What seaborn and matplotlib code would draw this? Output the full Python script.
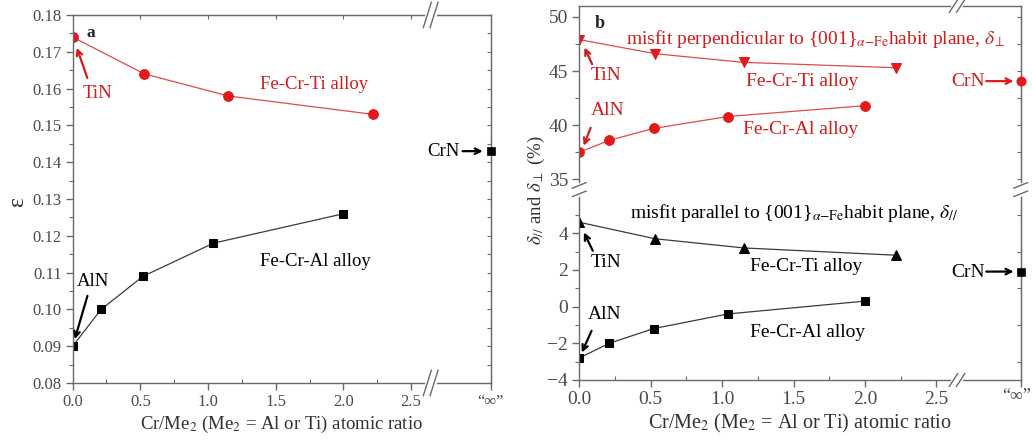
import numpy as np
import pandas as pd
import seaborn as sns
import matplotlib.pyplot as plt
from matplotlib.ticker import MultipleLocator, FixedLocator, FormatStrFormatter

sns.set_style('ticks')
plt.rcParams['font.family'] = ['Liberation Serif', 'DejaVu Serif']
plt.rcParams['mathtext.fontset'] = 'stix'

# ---- data (x = Cr/Me2 atomic ratio) ----
ti_x = [0.0, 0.53, 1.15, 2.22]
al_x = [0.0, 0.21, 0.52, 1.04, 2.0]

# (a) strain epsilon
eps_ti = [0.174, 0.164, 0.158, 0.153]
eps_al = [0.090, 0.100, 0.109, 0.118, 0.126]
eps_crn = 0.143

# (b) misfit, %
perp_ti = [47.9, 46.6, 45.8, 45.3]
perp_al = [37.5, 38.6, 39.7, 40.8, 41.8]
perp_crn = 44.1
par_ti = [4.6, 3.7, 3.2, 2.8]
par_al = [-2.8, -2.0, -1.2, -0.4, 0.3]
par_crn = 1.9

x_ticks = [0.0, 0.5, 1.0, 1.5, 2.0, 2.5]
x_ticklabels = ['0.0', '0.5', '1.0', '1.5', '2.0', '2.5']
inf_label = '\u201c\u221e\u201d'
XINF = 3.09      # where "infinity" sits on the axis
XBRK = 2.62      # axis break position

RED = '#e3191c'
TRED = '#d01c1c'
LRED = '#e04a4a'
BLK = '#000000'
LBLK = '#3a3a3a'
SPINE = '#6a6a6a'
TICK = '#4a4a4a'
LAB = '#303030'

fig = plt.figure(figsize=(10.32, 4.4), dpi=100)
axa = fig.add_axes([0.0704, 0.1295, 0.4053, 0.8364])
axu = fig.add_axes([0.5613, 0.5636, 0.4277, 0.4227])
axl = fig.add_axes([0.5613, 0.1364, 0.4277, 0.4273])


def style_axis(ax, size, xbottom=True):
    for s in ax.spines.values():
        s.set_color(SPINE)
        s.set_linewidth(1.0)
    ax.set_xlim(0, XINF)
    ax.xaxis.set_major_locator(FixedLocator(x_ticks + [XINF]))
    ax.xaxis.set_minor_locator(FixedLocator([0.25, 0.75, 1.25, 1.75, 2.25]))
    ax.tick_params(axis='both', which='major', colors=SPINE, labelcolor=TICK,
                   labelsize=size, width=1, length=5, direction='out', pad=3)
    ax.tick_params(axis='y', which='minor', colors=SPINE, width=0.8, length=3,
                   direction='out')
    ax.tick_params(axis='x', which='minor', colors=SPINE, width=0.8, length=3,
                   direction='in')
    if xbottom:
        ax.set_xticklabels(x_ticklabels + [''])
    else:
        ax.tick_params(axis='x', which='both', bottom=False, labelbottom=False)
    # small inward ticks on the right spine
    sec = ax.secondary_yaxis('right')
    sec.spines['right'].set_color(SPINE)
    sec.yaxis.set_major_locator(ax.yaxis.get_minor_locator())
    sec.tick_params(axis='y', which='both', direction='in', length=3,
                    width=0.8, colors=SPINE, labelright=False)


def xbreak(ax, y):
    tr = ax.get_xaxis_transform()
    ax.plot([XBRK - 0.005, XBRK + 0.055], [y, y], color='white', lw=3,
            transform=tr, clip_on=False, zorder=6)
    for dx in (0.0, 0.05):
        ax.plot([XBRK + dx - 0.03, XBRK + dx + 0.03], [y - 0.035, y + 0.035],
                color=SPINE, lw=1, transform=tr, clip_on=False, zorder=7)


# ---------------- panel a ----------------
axa.set_ylim(0.08, 0.18)
axa.yaxis.set_major_locator(MultipleLocator(0.01))
axa.yaxis.set_minor_locator(MultipleLocator(0.005))
axa.yaxis.set_major_formatter(FormatStrFormatter('%.2f'))

sns.lineplot(x=ti_x, y=eps_ti, color=LRED, lw=0.9, marker='o', markersize=7,
             markeredgecolor=RED, markerfacecolor=RED, ax=axa)
sns.lineplot(x=al_x, y=eps_al, color=LBLK, lw=0.9, marker='s', markersize=6,
             markeredgecolor=BLK, markerfacecolor=BLK, ax=axa)
sns.scatterplot(x=[XINF], y=[eps_crn], color=BLK, marker='s', s=36,
                edgecolor=BLK, ax=axa, clip_on=False, zorder=5)
style_axis(axa, 12)
axa.text(XINF, -0.03, inf_label, transform=axa.get_xaxis_transform(),
         fontsize=12, color=TICK, ha='center', va='top')
topa = axa.secondary_xaxis('top')
topa.spines['top'].set_color(SPINE)
topa.xaxis.set_major_locator(FixedLocator(x_ticks[1:]))
topa.tick_params(axis='x', direction='in', length=3, width=0.8, colors=SPINE,
                 labeltop=False)
xbreak(axa, 0)
xbreak(axa, 1)
axa.set_xlabel(r'Cr/Me$_2$ (Me$_2$ = Al or Ti) atomic ratio', fontsize=13.5,
               color=LAB, labelpad=3)

axa.text(0.1, 0.1752, 'a', fontsize=12.5, fontweight='bold', va='center')
axa.text(0.18, 0.1588, 'TiN', color=TRED, fontsize=13.5, ha='center', va='center')
axa.annotate('', xy=(0.024, 0.1718), xytext=(0.115, 0.1622),
             arrowprops=dict(arrowstyle='->', color=TRED, lw=1.6))
axa.text(1.78, 0.1612, 'Fe-Cr-Ti alloy', color=TRED, fontsize=13.5, ha='center', va='center')
axa.text(1.79, 0.1130, 'Fe-Cr-Al alloy', color=BLK, fontsize=13.5, ha='center', va='center')
axa.text(0.15, 0.1075, 'AlN', color=BLK, fontsize=13.5, ha='center', va='center')
axa.annotate('', xy=(0.01, 0.0912), xytext=(0.115, 0.1044),
             arrowprops=dict(arrowstyle='->', color=BLK, lw=1.6))
axa.text(2.74, 0.1429, 'CrN', color=BLK, fontsize=13.5, ha='center', va='center')
axa.annotate('', xy=(3.05, 0.143), xytext=(2.86, 0.143),
             arrowprops=dict(arrowstyle='->', color=BLK, lw=1.6))
fig.text(18 / 1032, 1 - 201.7 / 440, '\u03b5', fontsize=17, rotation=90,
         ha='center', va='center', color=LAB)

# ---------------- panel b (broken y axis) ----------------
axu.set_ylim(33.83, 51.0)
axu.yaxis.set_major_locator(MultipleLocator(5))
axu.yaxis.set_minor_locator(MultipleLocator(2.5))
axl.set_ylim(-4, 6.25)
axl.yaxis.set_major_locator(FixedLocator([-4, -2, 0, 2, 4]))
axl.yaxis.set_minor_locator(FixedLocator([-3, -1, 1, 3, 5]))

sns.lineplot(x=ti_x, y=perp_ti, color=LRED, lw=0.9, marker='v', markersize=7.5,
             markeredgecolor=RED, markerfacecolor=RED, ax=axu)
sns.lineplot(x=al_x, y=perp_al, color=LRED, lw=0.9, marker='o', markersize=7,
             markeredgecolor=RED, markerfacecolor=RED, ax=axu)
sns.scatterplot(x=[XINF], y=[perp_crn], color=RED, marker='o', s=45,
                edgecolor=RED, ax=axu, clip_on=False, zorder=5)
sns.lineplot(x=ti_x, y=par_ti, color=LBLK, lw=0.9, marker='^', markersize=7.5,
             markeredgecolor=BLK, markerfacecolor=BLK, ax=axl)
sns.lineplot(x=al_x, y=par_al, color=LBLK, lw=0.9, marker='s', markersize=6,
             markeredgecolor=BLK, markerfacecolor=BLK, ax=axl)
sns.scatterplot(x=[XINF], y=[par_crn], color=BLK, marker='s', s=36,
                edgecolor=BLK, ax=axl, clip_on=False, zorder=5)

style_axis(axu, 14, xbottom=False)
style_axis(axl, 14)
axu.spines['bottom'].set_visible(False)
axl.spines['top'].set_visible(False)
axl.text(3.06, -0.045, inf_label, transform=axl.get_xaxis_transform(),
         fontsize=13, color=TICK, ha='center', va='top')

xbreak(axu, 1)
xbreak(axl, 0)
axl.set_xlabel(r'Cr/Me$_2$ (Me$_2$ = Al or Ti) atomic ratio', fontsize=14.5,
               color=LAB, labelpad=3)

# y-axis break marks on both side spines
for xa in (0.0, 1.0):
    axl.plot([xa, xa], [0.985, 1.035], color='white', lw=3,
             transform=axl.transAxes, clip_on=False, zorder=6)
    for dy in (0.0, 0.045):
        axl.plot([xa - 0.016, xa + 0.016], [0.975 + dy, 1.005 + dy], color=SPINE,
                 lw=1, transform=axl.transAxes, clip_on=False, zorder=7)

axu.text(0.11, 49.35, 'b', fontsize=13, fontweight='bold', va='center')
axu.text(0.33, 48.0,
         r'misfit perpendicular to {001}$_{\alpha\mathrm{-Fe}}$habit plane, $\delta_{\perp}$',
         color=TRED, fontsize=14, va='center')
axu.text(0.19, 44.6, 'TiN', color=TRED, fontsize=14, ha='center', va='center')
axu.annotate('', xy=(0.028, 47.4), xytext=(0.098, 45.4),
             arrowprops=dict(arrowstyle='->', color=TRED, lw=1.6))
axu.text(1.56, 44.07, 'Fe-Cr-Ti alloy', color=TRED, fontsize=14, ha='center', va='center')
axu.text(0.2, 41.4, 'AlN', color=TRED, fontsize=14, ha='center', va='center')
axu.annotate('', xy=(0.024, 37.86), xytext=(0.087, 40.0),
             arrowprops=dict(arrowstyle='->', color=TRED, lw=1.6))
axu.text(1.55, 39.6, 'Fe-Cr-Al alloy', color=TRED, fontsize=14, ha='center', va='center')
axu.text(2.72, 44.0, 'CrN', color=TRED, fontsize=14, ha='center', va='center')
axu.annotate('', xy=(3.06, 44.07), xytext=(2.83, 44.07),
             arrowprops=dict(arrowstyle='->', color=RED, lw=1.6))

axl.text(0.355, 5.09,
         r'misfit parallel to {001}$_{\alpha\mathrm{-Fe}}$habit plane, $\delta_{//}$',
         color=BLK, fontsize=14, va='center')
axl.text(0.19, 2.42, 'TiN', color=BLK, fontsize=14, ha='center', va='center')
axl.annotate('', xy=(0.024, 4.18), xytext=(0.103, 2.91),
             arrowprops=dict(arrowstyle='->', color=BLK, lw=1.6))
axl.text(1.59, 2.18, 'Fe-Cr-Ti alloy', color=BLK, fontsize=14, ha='center', va='center')
axl.text(0.18, -0.45, 'AlN', color=BLK, fontsize=14, ha='center', va='center')
axl.annotate('', xy=(0.01, -2.64), xytext=(0.094, -1.18),
             arrowprops=dict(arrowstyle='->', color=BLK, lw=1.6))
axl.text(1.6, -1.42, 'Fe-Cr-Al alloy', color=BLK, fontsize=14, ha='center', va='center')
axl.text(2.72, 1.85, 'CrN', color=BLK, fontsize=14, ha='center', va='center')
axl.annotate('', xy=(3.06, 1.91), xytext=(2.83, 1.91),
             arrowprops=dict(arrowstyle='->', color=BLK, lw=1.6))

fig.text(536.7 / 1032, 1 - 190 / 440, r'$\delta_{//}$ and $\delta_{\perp}$ (%)',
         fontsize=13.5, rotation=90, ha='center', va='center', color=LAB)

fig.savefig('out.png', dpi=100)
